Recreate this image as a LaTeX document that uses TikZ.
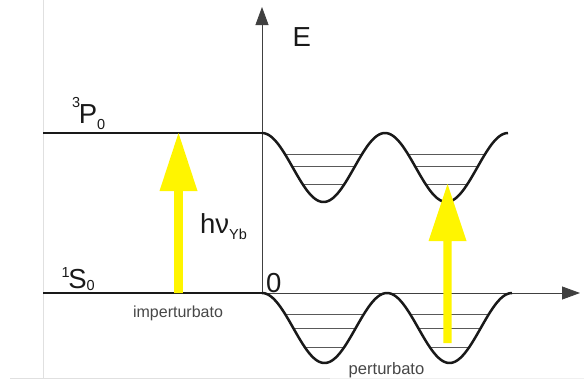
\documentclass[tikz,border=0pt]{standalone}
\usepackage{fontspec}
\setmainfont{Liberation Sans}
\usetikzlibrary{arrows.meta}
\begin{document}
\begin{tikzpicture}[x=1pt,y=-1pt,
  lbl/.style={inner sep=0pt,anchor=base west,font=\fontsize{27.5}{27.5}\selectfont,text=black!90},
  small/.style={inner sep=0pt,anchor=base,font=\fontsize{16}{16}\selectfont,text=black!72},
  level/.style={line width=2.6pt,black!90},
  wave/.style={line width=2.5pt,black!90,line join=round},
  vib/.style={line width=1pt,black!65},
  axis/.style={line width=0.8pt,black!75,-{Triangle[length=18pt,width=13pt]}},
  photon/.style={fill={rgb,255:red,255;green,245;blue,0},draw=none},
  border/.style={line width=1pt,black!12}]
\def\supf{\fontsize{14.5}{14.5}\selectfont}
\useasboundingbox (0,0) rectangle (584,383);
% page border artefacts
\draw[border] (43,0) -- (43,378);
\draw[border] (10,378) -- (330,378);
\draw[line width=1pt,black!6] (330,378) -- (584,378);
% coordinates
\coordinate (O) at (262,293);
\coordinate (Etop) at (262,7);
\coordinate (Xend) at (580,293);
\coordinate (Pl) at (43,133);
\coordinate (Pr) at (264,133);
\coordinate (Sl) at (43,293);
\coordinate (Sr) at (264,293);
% axes
\draw[axis] (O) -- (Etop);
\draw[axis] (O) -- (Xend);
% unperturbed levels
\draw[level] (Pl) -- (Pr);
\draw[level] (Sl) -- (Sr);
% vibrational levels, upper potential (T=123, min 323.5 and 446.5)
\foreach \c in {323.5,446.5}{
  \draw[vib] (\c-38.5,154) -- (\c+38.5,154);
  \draw[vib] (\c-31.5,166) -- (\c+31.5,166);
  \draw[vib] (\c-21,184) -- (\c+21,184);
}
% vibrational levels, lower potential (T=125, min 324.5 and 449.5)
\foreach \c in {324.5,449.5}{
  \draw[vib] (\c-38.5,314.5) -- (\c+38.5,314.5);
  \draw[vib] (\c-31,328) -- (\c+31,328);
  \draw[vib] (\c-20,347) -- (\c+20,347);
}
% perturbed potentials
\draw[wave] plot[domain=262:508,samples=160,smooth] (\x,{133+34.5*(1-cos((\x-262)/123*360))});
\draw[wave] plot[domain=262:512,samples=160,smooth] (\x,{293+35*(1-cos((\x-262)/125*360))});
% photon arrows
\coordinate (A1) at (178.5,133);
\coordinate (A2) at (447.5,184);
\fill[photon] (174.2,293) -- (174.2,191) -- (159.5,191) -- (A1) -- (197.5,191) -- (182.8,191) -- (182.8,293) -- cycle;
\fill[photon] (443.3,343) -- (443.3,241) -- (428.5,241) -- (A2) -- (466.5,241) -- (451.7,241) -- (451.7,343) -- cycle;
% labels
\node[lbl] (E) at (292.5,46) {E};
\node[lbl] (zero) at (266,292) {0};
\node[lbl] (P0) at (72,123) {{\supf\raisebox{16pt}{3}}\kern-1.5pt P{\supf\raisebox{-6pt}{0}}};
\node[lbl] (S0) at (61.5,288) {{\supf\raisebox{11pt}{1}}\kern-1.5pt S{\supf\raisebox{-2pt}{0}}};
\node[lbl] (hv) at (200,233) {hν{\supf\raisebox{-6pt}{Yb}}};
\node[small] (imp) at (178,317) {imperturbato};
\node[small,font=\fontsize{16.6}{16.6}\selectfont] (pert) at (386.5,374) {perturbato};
\end{tikzpicture}
\end{document}
